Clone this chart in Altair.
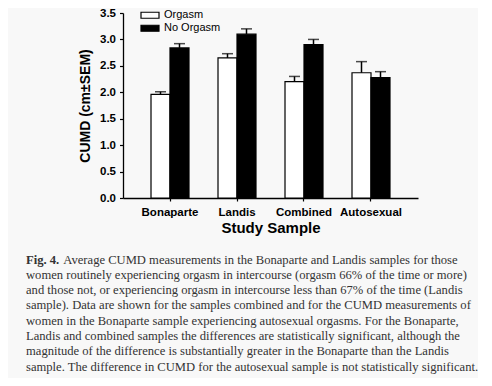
import altair as alt
import pandas as pd

samples = ["Bonaparte", "Landis", "Combined", "Autosexual"]
groups = ["Orgasm", "No Orgasm"]
orgasm_mean = [1.96, 2.65, 2.20, 2.37]
orgasm_sem = [0.05, 0.08, 0.10, 0.21]
no_orgasm_mean = [2.84, 3.10, 2.90, 2.28]
no_orgasm_sem = [0.08, 0.10, 0.10, 0.11]
y_ticks = [0, 0.5, 1, 1.5, 2, 2.5, 3, 3.5]

caption_label = "Fig. 4."
caption_first = "Average CUMD measurements in the Bonaparte and Landis samples for those"
caption_rest = [
    "women routinely experiencing orgasm in intercourse (orgasm 66% of the time or more)",
    "and those not, or experiencing orgasm in intercourse less than 67% of the time (Landis",
    "sample). Data are shown for the samples combined and for the CUMD measurements of",
    "women in the Bonaparte sample experiencing autosexual orgasms. For the Bonaparte,",
    "Landis and combined samples the differences are statistically significant, although the",
    "magnitude of the difference is substantially greater in the Bonaparte than the Landis",
    "sample. The difference in CUMD for the autosexual sample is not statistically significant.",
]

rows = []
for i, s in enumerate(samples):
    rows.append({"sample": s, "group": groups[0], "mean": orgasm_mean[i],
                 "top": orgasm_mean[i] + orgasm_sem[i]})
    rows.append({"sample": s, "group": groups[1], "mean": no_orgasm_mean[i],
                 "top": no_orgasm_mean[i] + no_orgasm_sem[i]})
df = pd.DataFrame(rows)

SANS = "Liberation Sans"
SERIF = "Liberation Serif"

x_axis = alt.Axis(title="Study Sample", labelAngle=0, labelFont=SANS,
                  labelFontWeight="bold", labelFontSize=11.5, labelColor="black",
                  labelPadding=5, tickSize=3, tickColor="black", tickWidth=1.2,
                  domainColor="black", domainWidth=1.3,
                  titleFont=SANS, titleFontSize=15, titleFontWeight="bold",
                  titleColor="black", titleBaseline="alphabetic", titleY=34)
y_axis = alt.Axis(title="CUMD (cm\u00b1SEM)", values=y_ticks, labelOverlap=False,
                  labelBound=False, labelFlush=False,
                  format=".1f", grid=False, labelFont=SANS, labelFontWeight="bold",
                  labelFontSize=11.5, labelColor="black", labelPadding=4,
                  tickSize=3.5, tickColor="black", tickWidth=1.2,
                  domainColor="black", domainWidth=1.3,
                  titleFont=SANS, titleFontSize=14, titleFontWeight="bold",
                  titleColor="black", titleBaseline="middle", titleX=-38)
x_scale = alt.Scale(paddingInner=0.433, paddingOuter=0.418)
y_scale = alt.Scale(domain=[0, 3.5])

x_enc = alt.X("sample:N", sort=samples, scale=x_scale, axis=x_axis)
xoff = alt.XOffset("group:N", sort=groups, scale=alt.Scale(paddingInner=0, paddingOuter=0))

base = alt.Chart(df)

bars = base.mark_bar(stroke="black", strokeWidth=1.2).encode(
    x=x_enc, xOffset=xoff,
    y=alt.Y("mean:Q", scale=y_scale, axis=y_axis),
    fill=alt.Fill("group:N", sort=groups,
                  scale=alt.Scale(domain=groups, range=["white", "black"]),
                  legend=alt.Legend(title=None, orient="none", legendX=17, legendY=-4,
                                    symbolType="M-1,-0.333H1V0.333H-1Z", symbolSize=324,
                                    symbolStrokeColor="black", symbolStrokeWidth=1.2,
                                    labelFont=SANS, labelFontSize=11, labelColor="black",
                                    labelOffset=4, clipHeight=12.5, rowPadding=0, padding=0)),
)

err = base.mark_rule(color="black", strokeWidth=1.5).encode(
    x=x_enc, xOffset=xoff,
    y=alt.Y("mean:Q", scale=y_scale, axis=y_axis), y2="top:Q")
caps = base.mark_tick(color="black", thickness=1.5, size=11).encode(
    x=x_enc, xOffset=xoff,
    y=alt.Y("top:Q", scale=y_scale, axis=y_axis))

one = pd.DataFrame({"k": [0]})
cap_label = alt.Chart(one).mark_text(text=caption_label, font=SERIF, fontSize=12.6,
                                     fontWeight="bold", color="#333333", align="left",
                                     baseline="alphabetic").encode(
    x=alt.value(-97), y=alt.value(250.5))
cap_first = alt.Chart(one).mark_text(text=caption_first, font=SERIF, fontSize=12.6,
                                     color="#333333", align="left",
                                     baseline="alphabetic").encode(
    x=alt.value(-59.7), y=alt.value(250.5))
cap_rest = alt.Chart(one).mark_text(text=caption_rest, font=SERIF, fontSize=12.6,
                                    color="#333333", align="left", lineHeight=15.29,
                                    baseline="alphabetic").encode(
    x=alt.value(-97), y=alt.value(265.8))

chart = alt.layer(bars, err, caps, cap_label, cap_first, cap_rest).properties(
    width=295, height=185,
    autosize=alt.AutoSizeParams(type="none"),
    padding={"left": 115, "top": 5, "right": 60, "bottom": 180},
    background="#f8f8f8",
).configure_view(stroke=None)

chart.save("out.html", embed_options={"renderer": "svg", "actions": False})
